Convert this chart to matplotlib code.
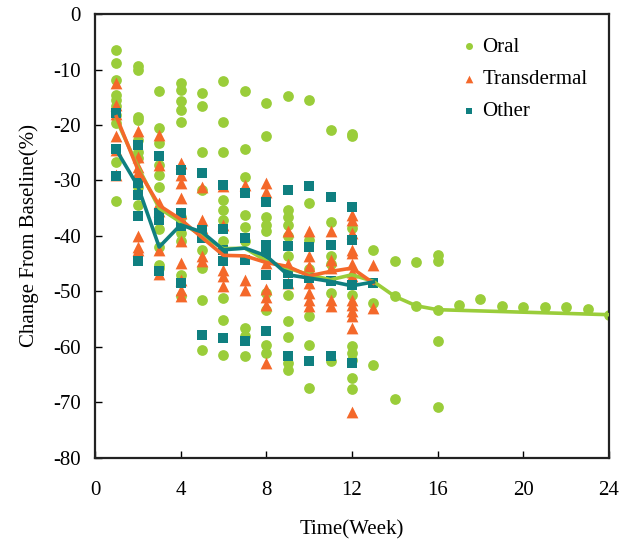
#!/usr/bin/env python3
"""Change from baseline over time by administration route."""

import matplotlib

matplotlib.use("Agg")
import matplotlib.pyplot as plt

GREEN = "#9acd3a"
ORANGE = "#f4682a"
TEAL = "#0f7f80"

# individual study points: week -> values (%)
oral_pts = {
    1: [-6.4, -8.9, -11.9, -14.6, -15.5, -16.6, -18.2, -19.7, -26.6, -33.7],
    2: [-9.3, -10.1, -18.5, -19.1, -22.7, -24.8, -26.0, -31.1, -34.4],
    3: [-13.8, -20.6, -23.3, -27.2, -29.1, -31.2, -38.8, -42.0, -45.2, -45.8],
    4: [-12.5, -13.6, -15.7, -17.3, -19.5, -36.5, -39.5, -41.0, -47.0, -50.9],
    5: [-14.3, -16.5, -24.8, -31.7, -42.5, -45.8, -51.6, -60.5],
    6: [-12.1, -19.4, -24.8, -33.5, -35.4, -37.1, -41.0, -51.2, -55.1, -61.4],
    7: [-13.8, -24.4, -29.4, -36.2, -38.3, -41.0, -56.6, -58.0, -61.6],
    8: [-16.0, -22.0, -36.5, -38.0, -39.2, -50.3, -53.3, -59.6, -61.2],
    9: [-14.8, -35.3, -36.5, -38.0, -40.1, -43.7, -50.6, -55.4, -58.3, -62.9, -64.1],
    10: [-15.5, -34.1, -40.7, -46.0, -54.5, -59.6, -67.4],
    11: [-20.9, -37.4, -43.7, -45.0, -50.3, -62.6],
    12: [-21.6, -22.0, -38.6, -50.6, -59.8, -61.2, -62.3, -65.6, -67.6],
    13: [-42.5, -52.1, -63.2],
    14: [-44.5, -50.9, -69.4],
    15: [-44.7, -52.6],
    16: [-43.4, -44.5, -53.3, -58.9, -70.9],
    17: [-52.4],
    18: [-51.4],
    19: [-52.6],
    20: [-52.9],
    21: [-52.9],
    22: [-52.9],
    23: [-53.1],
    24: [-54.2],
}
trans_pts = {
    1: [-12.5, -16.4, -18.0, -22.0, -24.5, -29.0],
    2: [-21.1, -25.7, -27.5, -28.5, -40.1, -42.0, -42.5],
    3: [-21.8, -27.2, -34.1, -35.5, -42.5, -46.8],
    4: [-26.9, -29.0, -30.5, -33.2, -35.9, -41.0, -44.9, -48.0, -49.7, -50.9],
    5: [-31.1, -37.1, -38.5, -43.7, -44.5],
    6: [-31.0, -38.0, -46.1, -47.3, -49.1],
    7: [-30.8, -47.9, -49.7],
    8: [-30.5, -32.0, -44.9, -49.5, -51.0, -52.5, -62.9],
    9: [-39.2, -45.0, -48.5],
    10: [-39.2, -43.7, -45.5, -48.5, -50.3, -51.5, -52.7],
    11: [-39.2, -44.3, -45.8, -51.5, -52.7],
    12: [-36.2, -37.1, -39.5, -42.5, -43.1, -45.0, -46.5, -47.3, -51.5, -52.5,
         -53.5, -54.5, -56.6, -71.7],
    13: [-45.2, -53.0],
}
other_pts = {
    1: [-17.9, -24.3, -29.2],
    2: [-23.6, -30.5, -32.6, -36.4, -44.5],
    3: [-25.6, -35.9, -37.1, -46.4],
    4: [-28.1, -35.9, -38.2, -48.5],
    5: [-28.6, -39.0, -40.4, -57.8],
    6: [-30.8, -38.8, -42.5, -44.5, -58.4],
    7: [-32.2, -40.3, -44.3, -59.0],
    8: [-33.8, -41.6, -43.4, -47.0, -57.2],
    9: [-31.7, -41.8, -46.7, -48.6, -61.7],
    10: [-31.0, -42.0, -47.6, -62.6],
    11: [-32.9, -41.6, -48.2, -61.7],
    12: [-34.7, -40.8, -48.8, -62.9],
    13: [-48.4],
}

# pooled mean curves
oral_weeks = [1, 2, 3, 4, 5, 6, 7, 8, 9, 10, 11, 12, 13, 14, 15, 16, 24]
oral_mean = [-19.0, -27.5, -35.0, -37.5, -40.0, -42.3, -42.2, -44.5, -45.8,
             -47.0, -47.9, -47.0, -48.2, -50.9, -52.6, -53.3, -54.2]
trans_weeks = list(range(1, 14))
trans_mean = [-18.5, -28.0, -34.5, -37.0, -40.3, -43.5, -43.6, -44.8, -45.5,
              -47.2, -46.4, -45.8, -48.5]
other_weeks = list(range(1, 14))
other_mean = [-24.5, -31.0, -42.0, -38.0, -39.3, -42.5, -42.2, -43.6, -47.0,
              -47.6, -48.2, -49.0, -48.3]


def flatten(points):
    xs, ys = [], []
    for week, vals in points.items():
        xs.extend([week] * len(vals))
        ys.extend(vals)
    return xs, ys


plt.rcParams["font.family"] = ["Liberation Serif", "DejaVu Serif"]
plt.rcParams["axes.unicode_minus"] = False
fig = plt.figure(figsize=(6.33, 5.43), dpi=100)
ax = fig.add_axes([0.150, 0.157, 0.812, 0.817])

x, y = flatten(oral_pts)
ax.scatter(x, y, s=60, marker="o", color=GREEN, linewidths=0, label="Oral", zorder=2)
x, y = flatten(trans_pts)
ax.scatter(x, y, s=72, marker="^", color=ORANGE, linewidths=0, label="Transdermal", zorder=3)
x, y = flatten(other_pts)
ax.scatter(x, y, s=58, marker="s", color=TEAL, linewidths=0, label="Other", zorder=4)

ax.plot(oral_weeks, oral_mean, color=GREEN, lw=2.6, zorder=5)
ax.plot(trans_weeks, trans_mean, color=ORANGE, lw=2.6, zorder=6)
ax.plot(other_weeks, other_mean, color=TEAL, lw=2.6, zorder=7)

ax.set_xlim(0, 24)
ax.set_ylim(-80, 0)
ax.set_xticks(range(0, 25, 4))
ax.set_yticks(range(-80, 1, 10))
ax.tick_params(direction="in", length=5, width=1, labelsize=15)
ax.tick_params(axis="x", pad=17)
ax.tick_params(axis="y", pad=10)
for spine in ax.spines.values():
    spine.set_linewidth(1.6)
    spine.set_color("#222222")

ax.set_xlabel("Time(Week)", fontsize=15, labelpad=14)
ax.set_ylabel("Change From Baseline(%)", fontsize=15, labelpad=10)

ax.legend(loc="upper right", bbox_to_anchor=(0.995, 0.99), frameon=False, fontsize=15,
          handlelength=0.8, handletextpad=0.25, labelspacing=0.6, markerscale=0.65,
          borderaxespad=0.5)

fig.savefig("out.png", dpi=100)
